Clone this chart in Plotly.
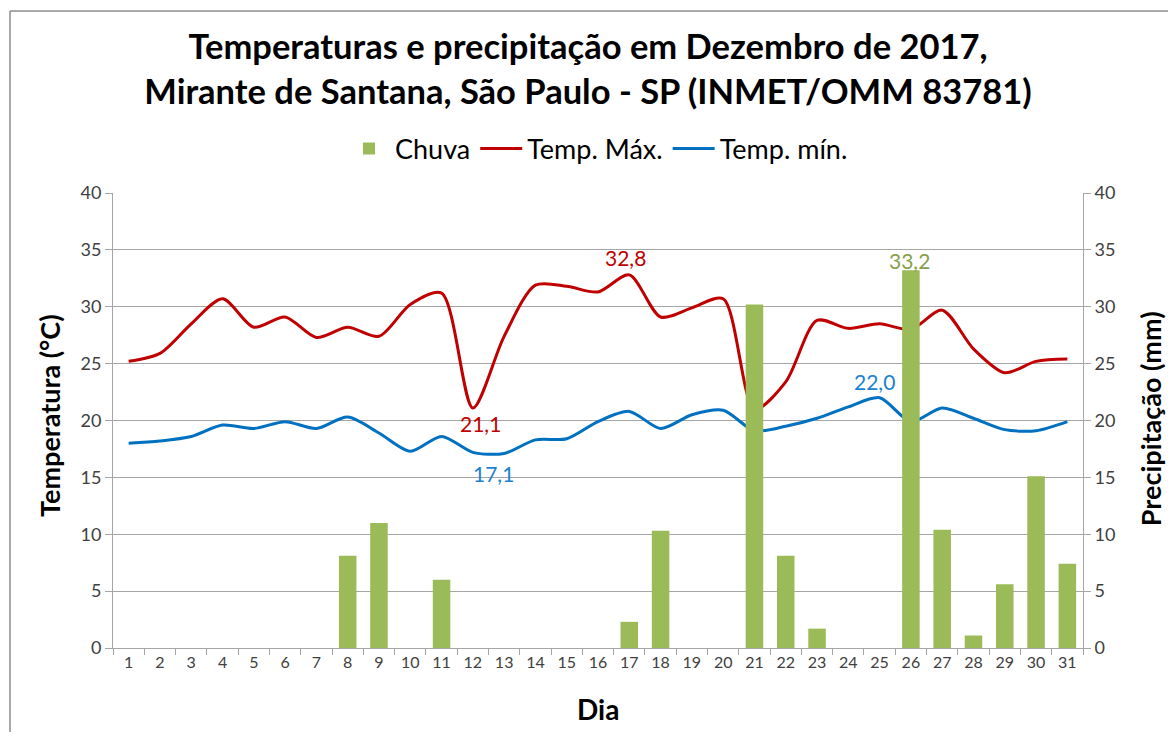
import plotly.graph_objects as go

dias = list(range(1, 32))
chuva = [0, 0, 0, 0, 0, 0, 0, 8.1, 11.0, 0, 6.0, 0, 0, 0, 0, 0, 2.3, 10.3, 0, 0,
         30.2, 8.1, 1.7, 0, 0, 33.2, 10.4, 1.1, 5.6, 15.1, 7.4]
temp_max = [25.2, 25.9, 28.5, 30.7, 28.2, 29.1, 27.3, 28.2, 27.4, 30.2, 31.2, 21.1, 27.4,
            31.9, 31.8, 31.3, 32.8, 29.1, 29.9, 30.7, 21.0, 23.4, 28.8, 28.1, 28.5, 28.0,
            29.7, 26.3, 24.2, 25.2, 25.4]
temp_min = [18.0, 18.2, 18.6, 19.6, 19.3, 19.9, 19.3, 20.3, 18.9, 17.3, 18.6, 17.2, 17.1,
            18.3, 18.4, 19.9, 20.8, 19.3, 20.5, 20.9, 19.1, 19.5, 20.2, 21.2, 22.0, 19.9,
            21.1, 20.2, 19.2, 19.1, 19.9]
y_ticks = [0, 5, 10, 15, 20, 25, 30, 35, 40]

GREEN = "#9BBB59"
RED = "#C00000"
BLUE = "#0070C0"
GRID = "#A6A6A6"
FONT = "Lato"
TXT = "#404040"

fig = go.Figure()
fig.add_trace(go.Bar(x=dias, y=chuva, name="Chuva", marker=dict(color=GREEN, line=dict(width=0)),
                     width=0.56, yaxis="y2"))
fig.add_trace(go.Scatter(x=dias, y=temp_max, name="Temp. Máx.", mode="lines",
                         line=dict(color=RED, width=3, shape="spline", smoothing=0.8)))
fig.add_trace(go.Scatter(x=dias, y=temp_min, name="Temp. mín.", mode="lines",
                         line=dict(color=BLUE, width=3, shape="spline", smoothing=0.8)))

def fmt(v):
    return f"{v:.1f}".replace(".", ",")

i_max = temp_max.index(max(temp_max))
i_lowmax = temp_max.index(21.1)
i_min = temp_min.index(min(temp_min))
i_highmin = temp_min.index(max(temp_min))
i_chuva = chuva.index(max(chuva))

ann = [
    dict(x=dias[i_max], y=temp_max[i_max], text=fmt(temp_max[i_max]), font=dict(color=RED),
         xshift=-4, yshift=17),
    dict(x=dias[i_lowmax], y=temp_max[i_lowmax], text=fmt(temp_max[i_lowmax]), font=dict(color=RED),
         xshift=8, yshift=-16),
    dict(x=dias[i_min], y=temp_min[i_min], text=fmt(temp_min[i_min]), font=dict(color="#1A82D0"),
         xshift=-11, yshift=-20),
    dict(x=dias[i_highmin], y=temp_min[i_highmin], text=fmt(temp_min[i_highmin]), font=dict(color="#1A82D0"),
         xshift=-5, yshift=16),
    dict(x=dias[i_chuva], y=chuva[i_chuva], yref="y2", text=fmt(chuva[i_chuva]), font=dict(color="#86A04A"),
         xshift=-1, yshift=10),
]
for a in ann:
    a.setdefault("yref", "y")
    a["xref"] = "x"
    a["showarrow"] = False
    a["font"]["size"] = 21
    a["font"]["family"] = FONT
    fig.add_annotation(**a)

# axis titles
fig.add_annotation(text="<b>Temperatura (°C)</b>", xref="paper", yref="paper", x=-0.065, y=0.51,
                   textangle=-90, showarrow=False, xanchor="center", yanchor="middle",
                   font=dict(family=FONT, size=27, color="black"))
fig.add_annotation(text="<b>Precipitação (mm)</b>", xref="paper", yref="paper", x=1.069, y=0.505,
                   textangle=-90, showarrow=False, xanchor="center", yanchor="middle",
                   font=dict(family=FONT, size=27, color="black"))
fig.add_annotation(text="<b>Dia</b>", xref="paper", yref="paper", x=0.5, y=-0.133,
                   showarrow=False, xanchor="center", yanchor="middle",
                   font=dict(family=FONT, size=28, color="black"))

axis_common = dict(range=[0, 40], tickvals=y_ticks, ticks="outside", ticklen=7, tickcolor=GRID,
                   showline=True, linecolor=GRID, linewidth=1,
                   tickfont=dict(family=FONT, size=18, color=TXT), zeroline=False)

fig.update_layout(
    width=1160, height=724,
    margin=dict(l=105, r=85, t=185, b=84),
    paper_bgcolor="white", plot_bgcolor="white",
    font=dict(family=FONT, color="black"),
    title=dict(text="<b>Temperaturas e precipitação em Dezembro de 2017,<br>Mirante de Santana, São Paulo - SP (INMET/OMM 83781)</b>",
               x=0.5, xanchor="center", y=0.93, yanchor="middle",
               font=dict(family=FONT, size=34.5, color="black")),
    showlegend=True,
    legend=dict(orientation="h", x=0.5, xanchor="center", y=1.097, yanchor="middle",
                font=dict(family=FONT, size=27, color="black"), traceorder="normal",
                itemwidth=42),
    xaxis=dict(range=[0.5, 31.5], tickvals=dias, ticktext=[str(d) for d in dias], ticks="",
               showline=True, linecolor=GRID, showgrid=False, zeroline=False,
               tickfont=dict(family=FONT, size=16, color=TXT),
               minor=dict(tickvals=[d + 0.5 for d in range(0, 32)], ticks="outside", ticklen=6,
                          tickcolor=GRID, showgrid=False)),
    yaxis=dict(**axis_common, showgrid=True, gridcolor=GRID, gridwidth=1),
    yaxis2=dict(**axis_common, overlaying="y", side="right", showgrid=False),
    shapes=[
        dict(type="line", xref="paper", yref="paper", x0=-0.1062, x1=1.2, y0=1.4, y1=1.4,
             line=dict(color="#8C8C8C", width=1.5)),
        dict(type="line", xref="paper", yref="paper", x0=-0.1062, x1=-0.1062, y0=-0.3, y1=1.4,
             line=dict(color="#8C8C8C", width=1.5)),
    ],
)

fig.write_html("out.html")
